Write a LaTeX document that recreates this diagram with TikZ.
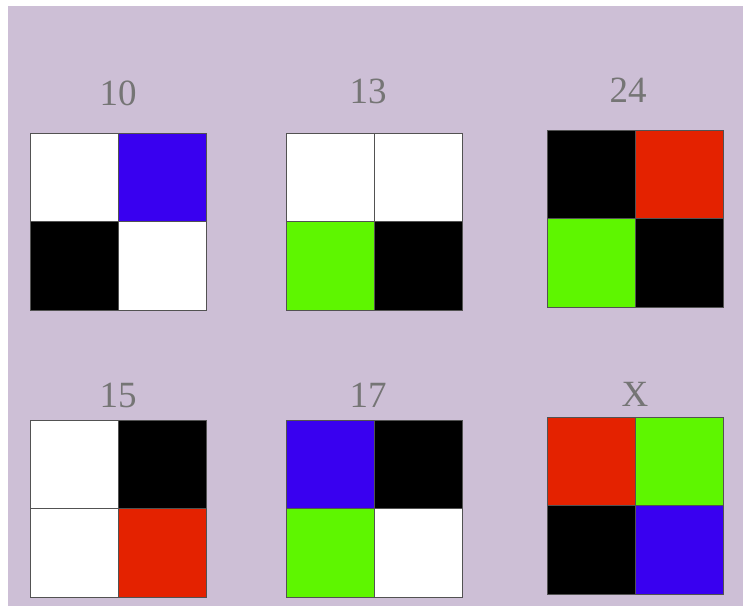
\documentclass[tikz,border=0pt]{standalone}
\usepackage{fontspec}
\setmainfont{Liberation Serif}

\definecolor{lavender}{RGB}{205,191,214}
\definecolor{tileblue}{RGB}{57,0,240}
\definecolor{tilered}{RGB}{228,34,0}
\definecolor{tilegreen}{RGB}{94,246,0}

% one 2x2 tile: name, x, y, then the four colours (row by row)
\newcommand{\tilegrid}[7]{
    \node[cell,fill=#4] (#1a) at (#2,#3) {};
    \node[cell,fill=#5] (#1b) at (#1a.north east) {};
    \node[cell,fill=#6] (#1c) at (#1a.south west) {};
    \node[cell,fill=#7] (#1d) at (#1a.south east) {};
}

\begin{document}
\begin{tikzpicture}[x=1pt,y=-1pt,
    cell/.style={draw=black!68,line width=0.9pt,minimum width=88pt,minimum height=88.5pt,
        inner sep=0pt,outer sep=0pt,anchor=north west},
    tag/.style={text=black!54,font=\fontsize{37}{40}\selectfont,inner sep=0pt}]
        \useasboundingbox (0,0) rectangle (743,606);
        \fill[lavender] (8,6) rectangle (743,606);

        \node[tag] (l10) at (118,93) {10};
        \node[tag] (l13) at (368,91) {13};
        \node[tag] (l24) at (628,90) {24};
        \node[tag] (l15) at (118,395) {15};
        \node[tag] (l17) at (368,395) {17};
        \node[tag] (lx) at (635,394) {X};

        \tilegrid{ta}{30}{133}{white}{tileblue}{black}{white}
        \tilegrid{tb}{286}{133}{white}{white}{tilegreen}{black}
        \tilegrid{tc}{547}{130}{black}{tilered}{tilegreen}{black}
        \tilegrid{td}{30}{420}{white}{black}{white}{tilered}
        \tilegrid{te}{286}{420}{tileblue}{black}{tilegreen}{white}
        \tilegrid{tf}{547}{417}{tilered}{tilegreen}{black}{tileblue}
    \end{tikzpicture}
\end{document}
